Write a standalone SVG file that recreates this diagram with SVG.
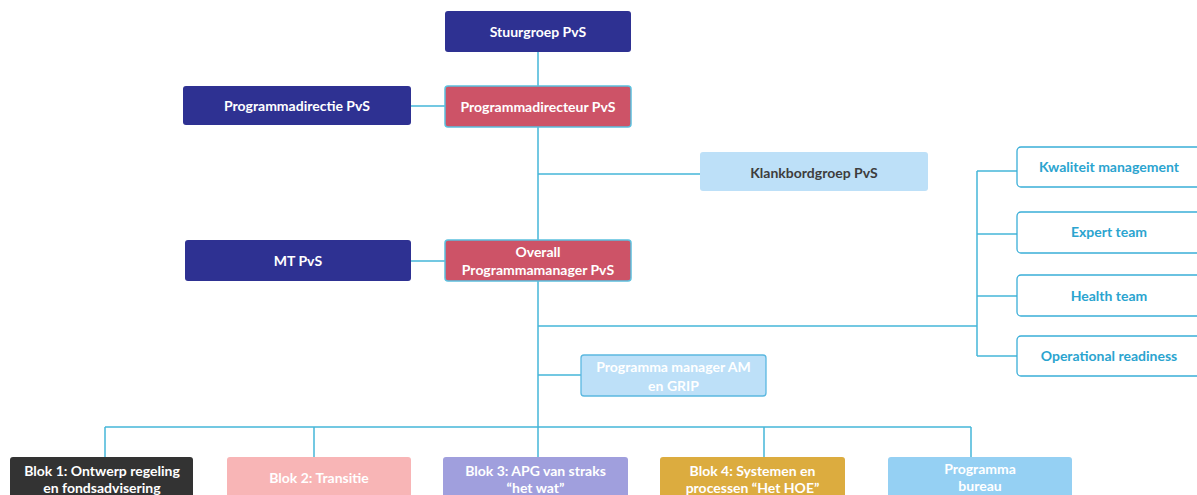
<svg xmlns="http://www.w3.org/2000/svg" width="1197" height="495" viewBox="0 0 1197 495">
<style>
.t{font-family:Lato,"Open Sans","Liberation Sans",sans-serif;font-weight:700;font-size:14px;text-anchor:middle}
.w{fill:#ffffff}
.navy{fill:#2e3192}
.red{fill:#cd5367;stroke:#5bc0de;stroke-width:1.5}
.side{fill:#ffffff;stroke:#3aaed8;stroke-width:1.3}
.st{fill:#2ba4cf}
.c{fill:none;stroke:#45b6d9;stroke-width:1.5}
</style>
<rect width="1197" height="495" fill="#ffffff"/>
<g id="connectors">
<path class="c" d="M538 51V457"/>
<path class="c" d="M411 106H445"/>
<path class="c" d="M538 174H700"/>
<path class="c" d="M411 261H445"/>
<path class="c" d="M538 326H977"/>
<path class="c" d="M977 171V356"/>
<path class="c" d="M977 171H1017M977 234H1017M977 296H1017M977 356H1017"/>
<path class="c" d="M538 375H581"/>
<path class="c" d="M105 427H971"/>
<path class="c" d="M105 427V457M314 427V457M764 427V457M971 427V457"/>
</g>
<g id="stuurgroep">
<rect class="navy" x="445" y="11" width="186" height="41" rx="3"/>
<text class="t w" x="538" y="36.5">Stuurgroep PvS</text>
</g>
<g id="programmadirectie">
<rect class="navy" x="183" y="86" width="228" height="39" rx="3"/>
<text class="t w" x="297" y="111">Programmadirectie PvS</text>
</g>
<g id="programmadirecteur">
<rect class="red" x="445" y="86" width="186" height="41" rx="3"/>
<text class="t w" x="538" y="111.5">Programmadirecteur PvS</text>
</g>
<g id="klankbordgroep">
<rect x="700" y="152" width="228" height="39" rx="3" fill="#bde0f8"/>
<text class="t" x="814" y="178" fill="#3d3d3d">Klankbordgroep PvS</text>
</g>
<g id="mt">
<rect class="navy" x="185" y="240" width="226" height="41" rx="3"/>
<text class="t w" x="298" y="265.5">MT PvS</text>
</g>
<g id="overall">
<rect class="red" x="445" y="240" width="186" height="41" rx="3"/>
<text class="t w" x="538" y="257">Overall</text>
<text class="t w" x="538" y="275">Programmamanager PvS</text>
</g>
<g id="kwaliteit">
<rect class="side" x="1017" y="147" width="190" height="40" rx="4"/>
<text class="t st" x="1109" y="172">Kwaliteit management</text>
</g>
<g id="expert">
<rect class="side" x="1017" y="212" width="190" height="41" rx="4"/>
<text class="t st" x="1109" y="237">Expert team</text>
</g>
<g id="health">
<rect class="side" x="1017" y="275" width="190" height="41" rx="4"/>
<text class="t st" x="1109" y="301">Health team</text>
</g>
<g id="operational">
<rect class="side" x="1017" y="336" width="190" height="40" rx="4"/>
<text class="t st" x="1109" y="361">Operational readiness</text>
</g>
<g id="programmamanager-am">
<rect x="581" y="355" width="185" height="41" rx="3" fill="#bde0f8" stroke="#5bb8e0" stroke-width="1.3"/>
<text class="t w" x="673.5" y="372">Programma manager AM</text>
<text class="t w" x="673.5" y="390.5">en GRIP</text>
</g>
<g id="blok1">
<rect x="10" y="457" width="183" height="50" rx="3" fill="#333333"/>
<text class="t w" x="102" y="476">Blok 1: Ontwerp regeling</text>
<text class="t w" x="102" y="493">en fondsadvisering</text>
</g>
<g id="blok2">
<rect x="227" y="457" width="184" height="50" rx="3" fill="#f8b5b6"/>
<text class="t w" x="319" y="483">Blok 2: Transitie</text>
</g>
<g id="blok3">
<rect x="443" y="457" width="185" height="50" rx="3" fill="#a09fdd"/>
<text class="t w" x="535.5" y="476">Blok 3: APG van straks</text>
<text class="t w" x="535.5" y="493">“het wat”</text>
</g>
<g id="blok4">
<rect x="660" y="457" width="185" height="50" rx="3" fill="#dcac3f"/>
<text class="t w" x="752.5" y="476">Blok 4: Systemen en</text>
<text class="t w" x="752.5" y="493">processen “Het HOE”</text>
</g>
<g id="programmabureau">
<rect x="888" y="457" width="184" height="50" rx="3" fill="#95d0f3"/>
<text class="t w" x="980" y="474">Programma</text>
<text class="t w" x="980" y="491">bureau</text>
</g>
</svg>
